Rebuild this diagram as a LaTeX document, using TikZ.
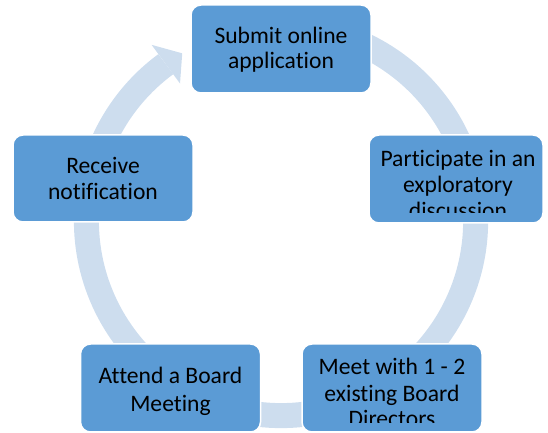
\documentclass[tikz,border=0pt]{standalone}
\usepackage{fontspec}
\setmainfont{Carlito}[Ligatures=NoCommon]
\usetikzlibrary{calc}
\definecolor{boxblue}{RGB}{91,155,213}
\definecolor{ringblue}{RGB}{205,221,238}
\begin{document}
\begin{tikzpicture}[x=1pt,y=1pt,
  stagebox/.style={draw=white, line width=1.5pt, fill=boxblue, rounded corners=10pt,
    inner sep=0pt, minimum width=180pt, minimum height=88pt},
  ring/.style={draw=ringblue, line width=25pt, line cap=butt},
  lbl/.style={anchor=base, inner sep=0pt, text=black,
    font=\fontsize{23.6}{26}\selectfont}]
\useasboundingbox (0,0) rectangle (548,433);
\def\rr{194.6}
\coordinate (C) at (281,212);

% cycle band running clockwise beneath the boxes
\draw[ring] ($(C)+(100:\rr)$) arc[start angle=100, end angle=-195, radius=\rr];
% final segment with its arrow head
\draw[ring] ($(C)+(165:\rr)$) arc[start angle=165, end angle=126.3, radius=\rr];
\fill[ringblue] ($(C)+(126.3:\rr+24)$) -- ($(C)+(120.5:\rr)$) -- ($(C)+(126.3:\rr-24)$) -- cycle;

% stages
\node[stagebox] (s1) at (281,384) {};
\node[stagebox, minimum width=174pt] (s2) at (456,254) {};
\node[stagebox, minimum height=87pt] (s5) at (103,254.5) {};
\node[stagebox] (s4) at (170.5,45) {};
\node[stagebox] (s3) at (392,45) {};

\node[lbl] (l1a) at (s1.center |- 0,389) {Submit online};
\node[lbl] (l1b) at (s1.center |- 0,364.5) {application};

\begin{scope}
  \clip ($(s2.south west)+(0,11)$) rectangle (s2.north east);
  \node[lbl] (l2a) at (458,266) {Participate in an};
  \node[lbl] (l2b) at (458,240) {exploratory};
  \node[lbl] (l2c) at (458,214.5) {discussion};
\end{scope}

\begin{scope}
  \clip ($(s3.south west)+(0,10)$) rectangle (s3.north east);
  \node[lbl] (l3a) at (s3.center |- 0,58) {Meet with 1 - 2};
  \node[lbl] (l3b) at (s3.center |- 0,31.5) {existing Board};
  \node[lbl] (l3c) at (s3.center |- 0,6) {Directors};
\end{scope}

\node[lbl] (l4a) at (s4.center |- 0,49.5) {Attend a Board};
\node[lbl] (l4b) at (s4.center |- 0,21.5) {Meeting};

\node[lbl] (l5a) at (s5.center |- 0,259.5) {Receive};
\node[lbl] (l5b) at (s5.center |- 0,233) {notification};
\end{tikzpicture}
\end{document}
